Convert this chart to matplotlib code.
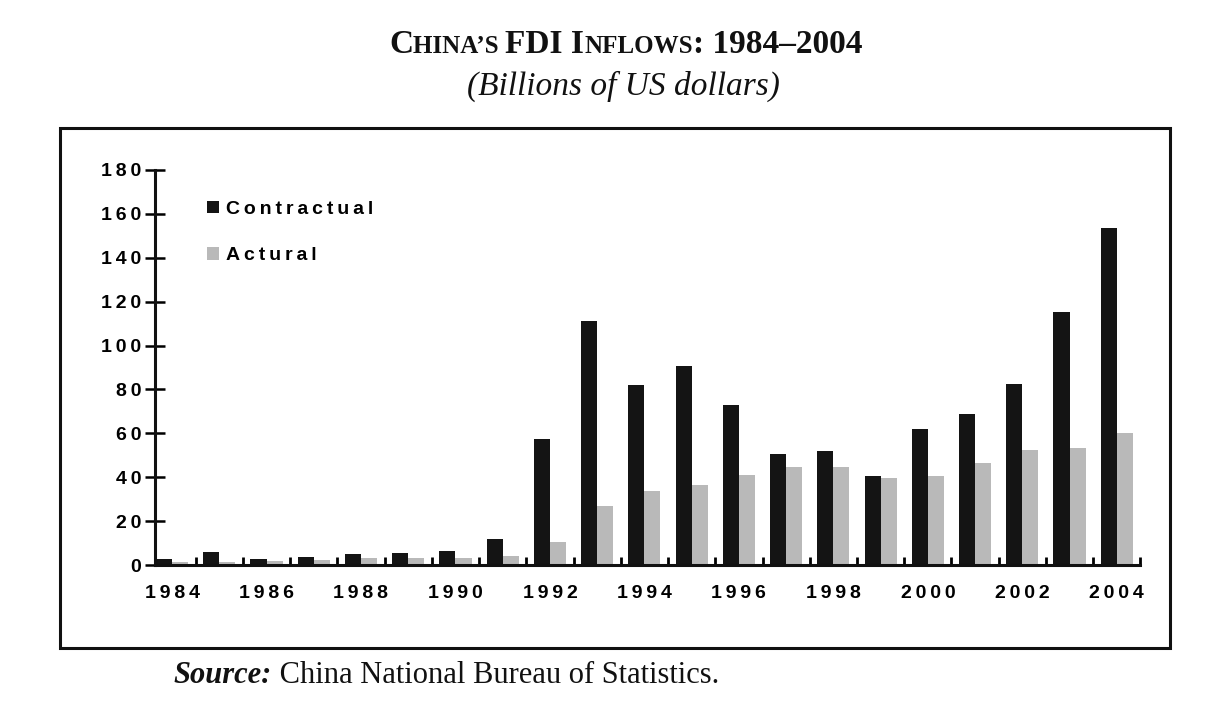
import numpy as np
import matplotlib.pyplot as plt
from matplotlib.offsetbox import TextArea, HPacker, AnchoredOffsetbox
from matplotlib.patches import Rectangle

years = np.arange(1984, 2005)
contractual = [2.7, 5.9, 2.8, 3.7, 5.3, 5.6, 6.6, 12.0, 57.5, 111.0, 82.0, 90.5,
               73.0, 50.5, 52.0, 40.8, 61.8, 68.8, 82.5, 115.3, 153.6]
actual = [1.3, 1.7, 1.9, 2.3, 3.2, 3.4, 3.5, 4.4, 10.5, 27.0, 34.0, 36.5,
          41.0, 44.5, 44.8, 39.8, 40.8, 46.6, 52.4, 53.3, 60.3]
ylabels = ["0", "20", "40", "60", "80", "100", "120", "140", "160", "180"]
series_names = ["Contractual", "Actural"]


def spaced(s):
    # the scanned chart has wide letter spacing
    return "\u2009".join(s)


sans = ["Liberation Sans", "DejaVu Sans"]

fig = plt.figure(figsize=(12.15, 7.04), dpi=100)
fig.patch.set_facecolor("white")
ax = fig.add_axes([0.1276, 0.197, 0.811, 0.562])

w = 0.34
ax.bar(years - w / 2, contractual, width=w, color="#141414", label=spaced(series_names[0]))
ax.bar(years + w / 2, actual, width=w, color="#b9b9b9", label=spaced(series_names[1]))

ax.set_xlim(1983.64, 2004.3)
ax.set_ylim(0, 180)

for s in ["top", "right"]:
    ax.spines[s].set_visible(False)
for s in ["left", "bottom"]:
    ax.spines[s].set_linewidth(2.2)
    ax.spines[s].set_color("#111111")

ax.set_yticks(np.arange(0, 181, 20))
ax.set_yticklabels([spaced(t) for t in ylabels], fontsize=14, fontweight="bold", family=sans)
ax.tick_params(axis="y", direction="inout", length=14, width=1.8, pad=3)

ax.set_xticks(years[::2])
ax.set_xticklabels([spaced(str(y)) for y in years[::2]], fontsize=14, fontweight="bold",
                   family=sans)
ax.tick_params(axis="x", which="major", length=0, pad=14)
ax.set_xticks(np.arange(1984.5, 2004.6, 1), minor=True)
ax.tick_params(axis="x", which="minor", direction="in", length=6, width=2)

leg = ax.legend(loc="upper left", bbox_to_anchor=(0.035, 0.965), frameon=False,
                handlelength=0.6, handleheight=0.6, handletextpad=0.4,
                labelspacing=1.5, prop={"family": sans, "weight": "bold", "size": 14})

# frame around the chart
fig.patches.append(Rectangle((60 / 1215, 1 - 648 / 704), 1110 / 1215, 520 / 704,
                             transform=fig.transFigure, fill=False, lw=2.2,
                             edgecolor="#111111"))

# title in small caps
big = dict(family="Liberation Serif", weight="bold", size=24, color="#111111")
small = dict(family="Liberation Serif", weight="bold", size=18, color="#111111")
parts = [("C", big), ("HINA\u2019S ", small), ("FDI I", big), ("NFLOWS", small),
         (": 1984\u20132004", big)]
title = HPacker(children=[TextArea(t, textprops=p) for t, p in parts],
                align="baseline", pad=0, sep=0)
fig.add_artist(AnchoredOffsetbox(loc="center", child=title, frameon=False, pad=0,
                                 borderpad=0, bbox_to_anchor=(0.515, 0.937),
                                 bbox_transform=fig.transFigure))
fig.text(0.513, 0.878, "(Billions of US dollars)", ha="center", va="center",
         family="Liberation Serif", style="italic", size=24, color="#111111")

# source line
src = HPacker(children=[
    TextArea("Source:", textprops=dict(family="Liberation Serif", weight="bold",
                                       style="italic", size=22, color="#111111")),
    TextArea(" China National Bureau of Statistics.",
             textprops=dict(family="Liberation Serif", size=22, color="#111111"))],
    align="baseline", pad=0, sep=0)
fig.add_artist(AnchoredOffsetbox(loc="center left", child=src, frameon=False, pad=0,
                                 borderpad=0, bbox_to_anchor=(0.143, 0.04),
                                 bbox_transform=fig.transFigure))

fig.savefig("out.png", dpi=100)
